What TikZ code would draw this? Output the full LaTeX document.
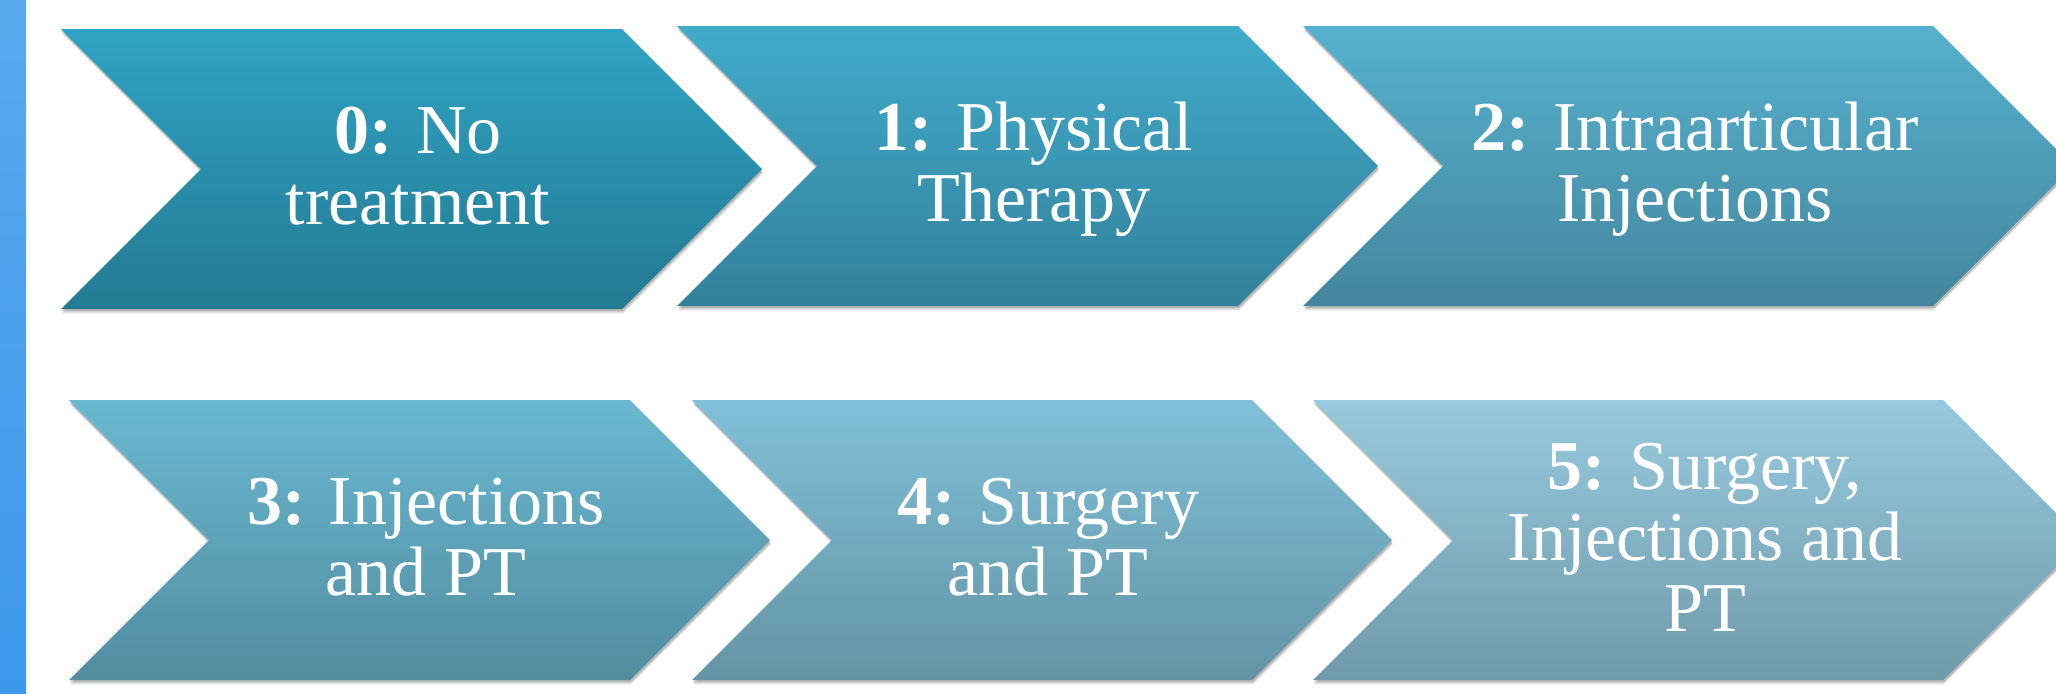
\documentclass[tikz,border=0pt]{standalone}
\usepackage{fontspec}
\setmainfont{Liberation Serif}
\usetikzlibrary{shadows}

% fills, lightening from stage 0 to stage 5
\definecolor{barTop}{HTML}{59A9EE}
\definecolor{barBot}{HTML}{3D98EC}
\definecolor{c0top}{HTML}{2FA3C3}
\definecolor{c0bot}{HTML}{247A93}
\definecolor{c1top}{HTML}{41ABCB}
\definecolor{c1bot}{HTML}{33819B}
\definecolor{c2top}{HTML}{56B1CF}
\definecolor{c2bot}{HTML}{44869D}
\definecolor{c3top}{HTML}{6AB8D2}
\definecolor{c3bot}{HTML}{528D9F}
\definecolor{c4top}{HTML}{80C0D8}
\definecolor{c4bot}{HTML}{6394A5}
\definecolor{c5top}{HTML}{97CADE}
\definecolor{c5bot}{HTML}{6F9AAA}

\begin{document}
\begin{tikzpicture}[x=0.5pt,y=-0.5pt,
  chev/.style={drop shadow={shadow xshift=0.5pt,shadow yshift=-2.2pt,opacity=.12,fill=black},
               drop shadow={shadow xshift=0.3pt,shadow yshift=-1.2pt,opacity=.18,fill=black}},
  lbl/.style={text=white,align=center,inner sep=0pt,font=\fontsize{35}{35.5}\selectfont}]
\useasboundingbox (0,0) rectangle (2056,693);
\fill[white] (0,0) rectangle (2056,693);
\clip (0,0) rectangle (2056,693);

% blue strip on the left
\shade[top color=barTop,bottom color=barBot] (0,0) rectangle (26,693);

% row 1
\path[chev,top color=c0top,bottom color=c0bot]
  (61,29) -- (622,29) -- (762,169) -- (622,309) -- (61,309) -- (201,169) -- cycle;
\path[chev,top color=c1top,bottom color=c1bot]
  (677,26) -- (1238,26) -- (1378,166) -- (1238,306) -- (677,306) -- (817,166) -- cycle;
\path[chev,top color=c2top,bottom color=c2bot]
  (1303,26) -- (1933,26) -- (2073,166) -- (1933,306) -- (1303,306) -- (1443,166) -- cycle;

% row 2
\path[chev,top color=c3top,bottom color=c3bot]
  (69,400) -- (630,400) -- (770,540) -- (630,680) -- (69,680) -- (209,540) -- cycle;
\path[chev,top color=c4top,bottom color=c4bot]
  (692,400) -- (1252,400) -- (1392,540) -- (1252,680) -- (692,680) -- (832,540) -- cycle;
\path[chev,top color=c5top,bottom color=c5bot]
  (1313,400) -- (1943,400) -- (2083,540) -- (1943,680) -- (1313,680) -- (1453,540) -- cycle;

% stage labels
\node[lbl] (s0) at (418,175) {\strut\textbf{0:} No\\\strut treatment};
\node[lbl] (s1) at (1034,172) {\strut\textbf{1:} Physical\\\strut Therapy};
\node[lbl] (s2) at (1695,172) {\strut\textbf{2:} Intraarticular\\\strut Injections};
\node[lbl] (s3) at (426,546) {\strut\textbf{3:} Injections\\\strut and PT};
\node[lbl] (s4) at (1048,546) {\strut\textbf{4:} Surgery\\\strut and PT};
\node[lbl] (s5) at (1705,546) {\strut\textbf{5:} Surgery,\\\strut Injections and\\\strut PT};
\end{tikzpicture}
\end{document}
